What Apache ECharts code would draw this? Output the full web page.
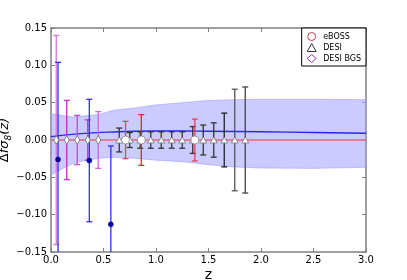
<!DOCTYPE html>
<html><head><meta charset="utf-8">
<script src="https://cdn.jsdelivr.net/npm/echarts@6/dist/echarts.min.js"></script>
<style>html,body{margin:0;padding:0;background:#fff}#c{width:407px;height:280px}</style>
</head><body><div id="c"></div>
<script>
// ---- data ----
const xTicks = [0.0, 0.5, 1.0, 1.5, 2.0, 2.5, 3.0];
const yTicks = [-0.15, -0.10, -0.05, 0.00, 0.05, 0.10, 0.15];

const bandZ  = [0, 0.1, 0.2, 0.3, 0.45, 0.6, 0.8, 1.0, 1.25, 1.5, 1.75, 2.0, 2.5, 3.0];
const bandUp = [0.035, 0.033, 0.031, 0.032, 0.034, 0.040, 0.043, 0.047, 0.050, 0.053, 0.054, 0.0545, 0.0545, 0.054];
const bandLo = [-0.047, -0.039, -0.032, -0.028, -0.0246, -0.0232, -0.0246, -0.027, -0.029, -0.033, -0.036, -0.0375, -0.038, -0.0366];

const theoryZ = [0, 0.2, 0.4, 0.6, 0.8, 1.0, 1.25, 1.5, 2.0, 2.5, 3.0];
const theoryV = [0.0045, 0.0075, 0.0095, 0.0108, 0.0117, 0.012, 0.012, 0.0117, 0.011, 0.010, 0.009];

const fidZ = [0, 3];
const fidV = [0, 0];

const bgsZ   = [0.05, 0.15, 0.25, 0.35, 0.45];
const bgsErr = [0.140, 0.053, 0.033, 0.027, 0.038];

const desiZ   = [0.65, 0.75, 0.85, 0.95, 1.05, 1.15, 1.25, 1.35, 1.45, 1.55, 1.65, 1.75, 1.85];
const desiErr = [0.016, 0.010, 0.011, 0.011, 0.011, 0.011, 0.011, 0.018, 0.020, 0.023, 0.036, 0.068, 0.071];

const ebossZ   = [0.71, 0.86, 1.37];
const ebossErr = [0.025, 0.034, 0.028];

const measZ   = [0.067, 0.365, 0.57];
const measV   = [-0.026, -0.0275, -0.113];
const measErr = [0.130, 0.082, 0.105];

// ---- styles ----
const bgsColors   = ['#e070e0', '#cc22cc', '#c050c8', '#cc30c8', '#dd60dd'];
const desiColors  = ['#333', '#333', '#333', '#333', '#333', '#333', '#333', '#333', '#333', '#333', '#222', '#555', '#444'];
const ebossColors = ['#e04858', '#e02828', '#e04458'];
const measColor   = '#3030ee';

function errData(zs, vs, es, colors) {
  return zs.map((z, i) => ({
    value: [z, (vs ? vs[i] : 0) - es[i], (vs ? vs[i] : 0) + es[i]],
    itemStyle: { color: colors[i] }
  }));
}
function errSeries(data, z) {
  return {
    type: 'custom', z: z, clip: true, silent: true,
    encode: { x: 0, y: [1, 2] },
    data: data,
    renderItem: function (params, api) {
      const x = api.value(0);
      const lo = api.coord([x, api.value(1)]);
      const hi = api.coord([x, api.value(2)]);
      const col = api.visual('color');
      const st = { stroke: col, lineWidth: 1.3 };
      const cw = 3;
      return { type: 'group', children: [
        { type: 'line', shape: { x1: lo[0], y1: lo[1], x2: hi[0], y2: hi[1] }, style: st },
        { type: 'line', shape: { x1: lo[0] - cw, y1: lo[1], x2: lo[0] + cw, y2: lo[1] }, style: st },
        { type: 'line', shape: { x1: hi[0] - cw, y1: hi[1], x2: hi[0] + cw, y2: hi[1] }, style: st }
      ]};
    }
  };
}

const chart = echarts.init(document.getElementById('c'), null, { renderer: 'canvas' });
const axisCol = '#808080';
const font = 'DejaVu Sans';
const axisLineCfg = { show: true, onZero: false, lineStyle: { color: axisCol, width: 1.5 } };
const tickCfg = { show: true, inside: true, length: 4, lineStyle: { color: axisCol } };
const option = {
  animation: false,
  backgroundColor: '#fff',
  grid: { left: 51, right: 41, top: 28, bottom: 28, containLabel: false, outerBoundsMode: 'none' },
  legend: {
    orient: 'vertical', right: 41, top: 28,
    borderColor: '#000', borderWidth: 1, borderRadius: 0,
    padding: [4, 5, 3, 5], itemGap: 2, itemWidth: 9, itemHeight: 8,
    backgroundColor: '#fff',
    textStyle: { fontFamily: font, fontSize: 8, color: '#000', padding: [0, 0, 0, 2] },
    data: [
      { name: 'eBOSS', icon: 'circle', itemStyle: { color: '#fff', borderColor: '#b04050', borderWidth: 1 } },
      { name: 'DESI', icon: 'triangle', itemStyle: { color: '#fff', borderColor: '#333', borderWidth: 1 } },
      { name: 'DESI BGS', icon: 'diamond', itemStyle: { color: '#fff', borderColor: '#9030a0', borderWidth: 1 } }
    ]
  },
  xAxis: [{
    type: 'value', min: 0, max: 3, interval: 0.5,
    name: 'z', nameLocation: 'middle', nameGap: 16, nameMoveOverlap: false,
    nameTextStyle: { fontFamily: font, fontSize: 14, color: '#000', verticalAlign: 'top' },
    axisLine: axisLineCfg, axisTick: tickCfg,
    axisLabel: { fontFamily: font, fontSize: 10, color: '#000', margin: 3, formatter: v => v.toFixed(1) },
    splitLine: { show: false }
  }, {
    type: 'value', position: 'top', min: 0, max: 3, interval: 0.5,
    axisLine: axisLineCfg, axisTick: tickCfg,
    axisLabel: { show: false }, splitLine: { show: false }
  }],
  yAxis: [{
    type: 'value', min: -0.15, max: 0.15, interval: 0.05,
    name: '{d|Δ}{i|fσ}{s|8}{i|(z)}', nameLocation: 'middle', nameGap: 38, nameMoveOverlap: false,
    nameTextStyle: {
      fontFamily: font, fontSize: 13, color: '#000', verticalAlign: 'bottom',
      rich: {
        d: { fontFamily: font, fontSize: 13, color: '#000' },
        i: { fontFamily: font, fontSize: 13, fontStyle: 'italic', color: '#000' },
        s: { fontFamily: font, fontSize: 9, fontStyle: 'italic', color: '#000', padding: [7, 0, 0, 0] }
      }
    },
    axisLine: axisLineCfg, axisTick: tickCfg,
    axisLabel: { fontFamily: font, fontSize: 10, color: '#000', margin: 4,
      formatter: v => (v < 0 ? '\u2212' : '') + Math.abs(v).toFixed(2) },
    splitLine: { show: false }
  }, {
    type: 'value', position: 'right', min: -0.15, max: 0.15, interval: 0.05,
    axisLine: axisLineCfg, axisTick: tickCfg,
    axisLabel: { show: false }, splitLine: { show: false }
  }],
  series: [
    {
      type: 'custom', z: 1, silent: true, clip: true,
      data: [[0, 0]], encode: { x: 0, y: 1 },
      renderItem: function (params, api) {
        const pts = [];
        for (let i = 0; i < bandZ.length; i++) pts.push(api.coord([bandZ[i], bandUp[i]]));
        for (let i = bandZ.length - 1; i >= 0; i--) pts.push(api.coord([bandZ[i], bandLo[i]]));
        return { type: 'polygon', shape: { points: pts }, style: { fill: 'rgba(160,160,255,0.55)', stroke: 'rgba(140,140,255,0.6)', lineWidth: 0.8 } };
      }
    },
    {
      type: 'line', z: 2, silent: true, symbol: 'none', smooth: true,
      data: theoryZ.map((z, i) => [z, theoryV[i]]),
      lineStyle: { color: '#2828ee', width: 1.4 }
    },
    {
      type: 'line', z: 3, silent: true, symbol: 'none',
      data: fidZ.map((z, i) => [z, fidV[i]]),
      lineStyle: { color: '#e06878', width: 1.6 }
    },
    errSeries(errData(bgsZ, null, bgsErr, bgsColors), 4),
    errSeries(errData(desiZ, null, desiErr, desiColors), 4),
    errSeries(errData(ebossZ, null, ebossErr, ebossColors), 4),
    errSeries(errData(measZ, measV, measErr, measZ.map(() => measColor)), 5),
    {
      name: 'DESI BGS', type: 'scatter', z: 6, symbol: 'diamond', symbolSize: [5, 9],
      data: bgsZ.map(z => [z, 0]),
      itemStyle: { color: '#fff', borderColor: '#777', borderWidth: 0.8, opacity: 1 }
    },
    {
      name: 'DESI', type: 'scatter', z: 6, symbol: 'triangle', symbolSize: [7, 6],
      data: desiZ.map(z => [z, 0]),
      itemStyle: { color: '#fff', borderColor: '#777', borderWidth: 0.8, opacity: 1 }
    },
    {
      name: 'eBOSS', type: 'scatter', z: 7, symbol: 'circle', symbolSize: 8,
      data: ebossZ.map(z => [z, 0]),
      itemStyle: { color: '#fff', borderColor: '#888', borderWidth: 0.8, opacity: 1 }
    },
    {
      type: 'scatter', z: 7, symbol: 'circle', symbolSize: 5, silent: true,
      data: measZ.map((z, i) => [z, measV[i]]),
      itemStyle: { color: '#0000b0', borderColor: '#000060', borderWidth: 0.5, opacity: 1 }
    }
  ]
};
chart.setOption(option);
</script>
</body></html>
